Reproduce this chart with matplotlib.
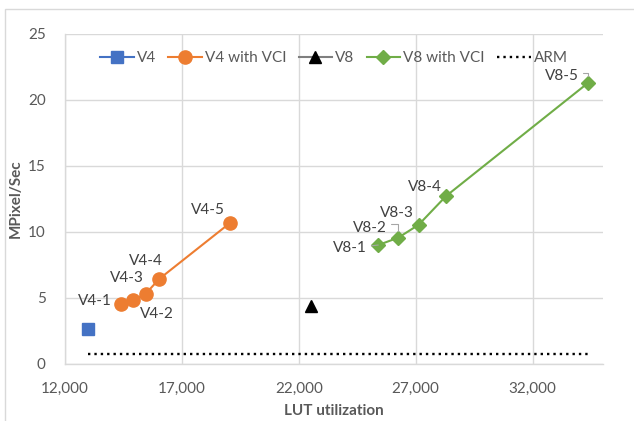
import matplotlib.pyplot as plt
from matplotlib.patches import Rectangle

plt.rcParams['font.family'] = ['Lato', 'DejaVu Sans']

# data
v4_lut = [13000]
v4_speed = [2.6]

v4_vci_lut = [14400, 14930, 15450, 16030, 19070]
v4_vci_speed = [4.5, 4.83, 5.3, 6.42, 10.68]
v4_vci_labels = ['V4-1', 'V4-2', 'V4-3', 'V4-4', 'V4-5']

v8_lut = [22530]
v8_speed = [4.4]

v8_vci_lut = [25400, 26260, 27130, 28300, 34350]
v8_vci_speed = [8.99, 9.55, 10.53, 12.7, 21.24]
v8_vci_labels = ['V8-1', 'V8-2', 'V8-3', 'V8-4', 'V8-5']

arm_lut = [13000, 34350]
arm_speed = [0.7, 0.7]

x_ticks = [12000, 17000, 22000, 27000, 32000]
y_ticks = [0, 5, 10, 15, 20, 25]

GRID = '#d9d9d9'
TXT = '#595959'
LBL = '#404040'

fig = plt.figure(figsize=(6.34, 4.21), dpi=100)
ax = fig.add_axes([65/634, 1 - 363.7/421, (602.7 - 65)/634, (363.7 - 33.7)/421])

ax.plot(v4_lut, v4_speed, color='#4472C4', marker='s', markersize=9, lw=1.5, label='V4')
ax.plot(v4_vci_lut, v4_vci_speed, color='#ED7D31', marker='o', markersize=9.5, lw=1.5, label='V4 with VCI')
ax.plot(v8_lut, v8_speed, color='#7f7f7f', marker='^', markersize=9, lw=1.5,
        markerfacecolor='black', markeredgecolor='black', label='V8')
ax.plot(v8_vci_lut, v8_vci_speed, color='#70AD47', marker='D', markersize=7, lw=1.5, label='V8 with VCI')
ax.plot(arm_lut, arm_speed, color='black', lw=1.7, linestyle=(0, (1, 1.7)), label='ARM')

# data labels (offsets in pixels)
v4_offsets = [(-26, 3), (23, -14), (-19, 16), (-13, 18), (-22, 13)]
for x, y, t, off in zip(v4_vci_lut, v4_vci_speed, v4_vci_labels, v4_offsets):
    ax.annotate(t, (x, y), xytext=off, textcoords='offset pixels',
                ha='center', va='center', fontsize=11, color=LBL)

v8_offsets = [(-28, -3), (-28, 10), (-22, 12), (-21, 9), (-26, 7)]
for i, (x, y, t, off) in enumerate(zip(v8_vci_lut, v8_vci_speed, v8_vci_labels, v8_offsets)):
    ap = None
    if i == 0:
        ap = dict(arrowstyle='-', color='#a6a6a6', lw=0.8, shrinkA=1, shrinkB=6)
    elif i in (1, 4):
        ap = dict(arrowstyle='-', color='#a6a6a6', lw=0.8, shrinkA=1, shrinkB=5,
                  connectionstyle='angle,angleA=0,angleB=90,rad=0', relpos=(1, 0.75))
    ax.annotate(t, (x, y), xytext=off, textcoords='offset pixels',
                ha='center', va='center', fontsize=11, color=LBL, arrowprops=ap)

ax.set_xlim(12000, 35000)
ax.set_ylim(0, 25)
ax.set_xticks(x_ticks)
ax.set_xticklabels([f'{v:,}' for v in x_ticks])
ax.set_yticks(y_ticks)
ax.grid(True, color=GRID, lw=1)
ax.set_axisbelow(True)
for s in ['top', 'right']:
    ax.spines[s].set_visible(False)
for s in ['left', 'bottom']:
    ax.spines[s].set_color(GRID)
    ax.spines[s].set_linewidth(1)
ax.tick_params(length=0, labelsize=11, labelcolor=TXT)
ax.tick_params(axis='x', pad=13)
ax.tick_params(axis='y', pad=14)

ax.set_xlabel('LUT utilization', fontsize=11, fontweight='bold', color=TXT, labelpad=6)
ax.set_ylabel('MPixel/Sec', fontsize=11, fontweight='bold', color=TXT, labelpad=4)

ax.legend(loc='center', bbox_to_anchor=(0.5, 1 - (58 - 33.7)/330), ncol=5, frameon=False,
          fontsize=11, handlelength=2.2, handletextpad=0.2, columnspacing=0.8,
          labelcolor=TXT, borderaxespad=0)

# outer chart border (partly cropped in the reference)
fig.patches.append(Rectangle((5/634, -0.1), 2, 1.1 - 9/421, transform=fig.transFigure,
                             fill=False, edgecolor=GRID, lw=1))

fig.savefig('out.png', dpi=100)
